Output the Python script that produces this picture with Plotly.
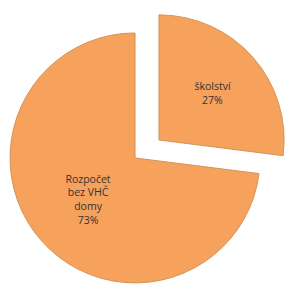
import plotly.graph_objects as go

labels = ["školství", "Rozpočet<br>bez VHČ<br>domy"]
values = [27, 73]

orange = "#F6A15C"
edge = "#D39459"
clear = "rgba(0,0,0,0)"
font = dict(family="Open Sans", size=10.5, color="#333333")

fig = go.Figure()
# main (non-exploded) slice
fig.add_trace(go.Pie(
    labels=labels, values=values, sort=False, direction="clockwise", rotation=0,
    marker=dict(colors=[clear, orange], line=dict(width=[0, 1], color=[clear, edge])),
    texttemplate=["", "%{label}<br>%{percent:.0%}"], textposition="inside",
    insidetextorientation="horizontal", textfont=font,
    domain=dict(x=[0.035, 0.906], y=[0.0105, 0.885]),
    showlegend=False, hoverinfo="skip",
))
# exploded slice
fig.add_trace(go.Pie(
    labels=labels, values=values, sort=False, direction="clockwise", rotation=0,
    marker=dict(colors=[orange, clear], line=dict(width=[1, 0], color=[edge, clear])),
    texttemplate=["%{label}<br>%{percent:.0%}", ""], textposition="inside",
    insidetextorientation="horizontal", textfont=font,
    domain=dict(x=[0.118, 0.990], y=[0.073, 0.948]),
    showlegend=False, hoverinfo="skip",
))
fig.update_layout(width=287, height=286, margin=dict(l=0, r=0, t=0, b=0),
                  paper_bgcolor="white", plot_bgcolor="white")
fig.write_html("out.html", config={"displayModeBar": False, "staticPlot": True},
               post_script="document.body.style.margin='0';")
